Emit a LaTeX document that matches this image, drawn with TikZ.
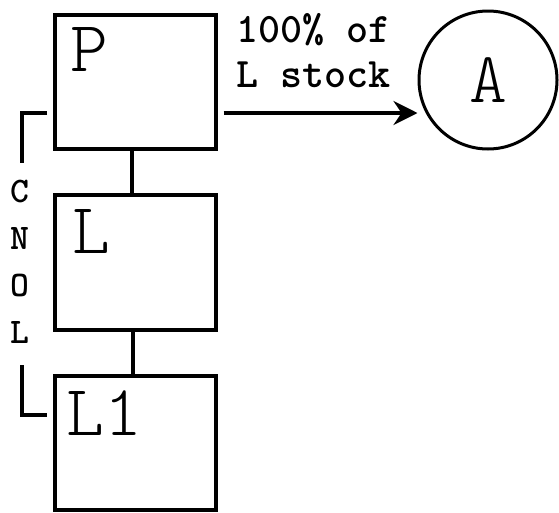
\documentclass[tikz,border=0pt]{standalone}
\usepackage{fontspec}
\usetikzlibrary{arrows.meta}

\begin{document}
\begin{tikzpicture}[x=1pt, y=-1pt, line width=4pt,
    box/.style={draw, rectangle, minimum width=161pt, inner sep=0pt},
    boxlabel/.style={anchor=north west, inner sep=0pt, font=\ttfamily\fontseries{l}\selectfont\fontsize{72}{72}\selectfont},
    typed/.style={inner sep=0pt, font=\ttfamily\bfseries\fontsize{42}{46}\selectfont}]
    \useasboundingbox (0,0) rectangle (559,512);
    \node[box, minimum height=134pt] (P) at (135,82) {};
    \node[box, minimum height=135pt] (L) at (135,262.5) {};
    \node[box, minimum height=133.5pt] (L1) at (135,443) {};
    \node[boxlabel] (Plbl) at ([xshift=16pt, yshift=-13pt]P.north west) {P};
    \node[boxlabel] (Llbl) at ([xshift=18pt, yshift=-15pt]L.north west) {L};
    \node[boxlabel] (L1lbl) at ([xshift=12pt, yshift=-14pt]L1.north west) {L1};
    \node[draw, circle, minimum size=138pt, inner sep=0pt, line width=3pt,
        font=\ttfamily\fontseries{l}\selectfont\fontsize{72}{72}\selectfont] (A) at (488,80) {A};
    \draw ([xshift=-3pt]P.south) -- ([xshift=-3pt]L.north);
    \draw ([xshift=-2pt]L.south) -- ([xshift=-2pt]L1.north);
    \coordinate (arrowy) at (0,113);
    \draw[line width=3.5pt, -{Stealth[length=24pt, width=24pt, inset=8pt]}, shorten <=6pt]
        (P.east |- arrowy) -- (A.west |- arrowy);
    \node[typed, anchor=base west] (pct) at (234,42) {100\% of};
    \node[typed, anchor=base west] (stock) at (234,87) {L stock};
    \draw (47,113) -- (22,113) -- (22,163);
    \draw (22,365) -- (22,415) -- (47,415);
    \node[typed, align=center, font=\ttfamily\bfseries\fontsize{36}{47}\selectfont] (cnol) at (20,262) {C\\N\\O\\L};
\end{tikzpicture}
\end{document}
